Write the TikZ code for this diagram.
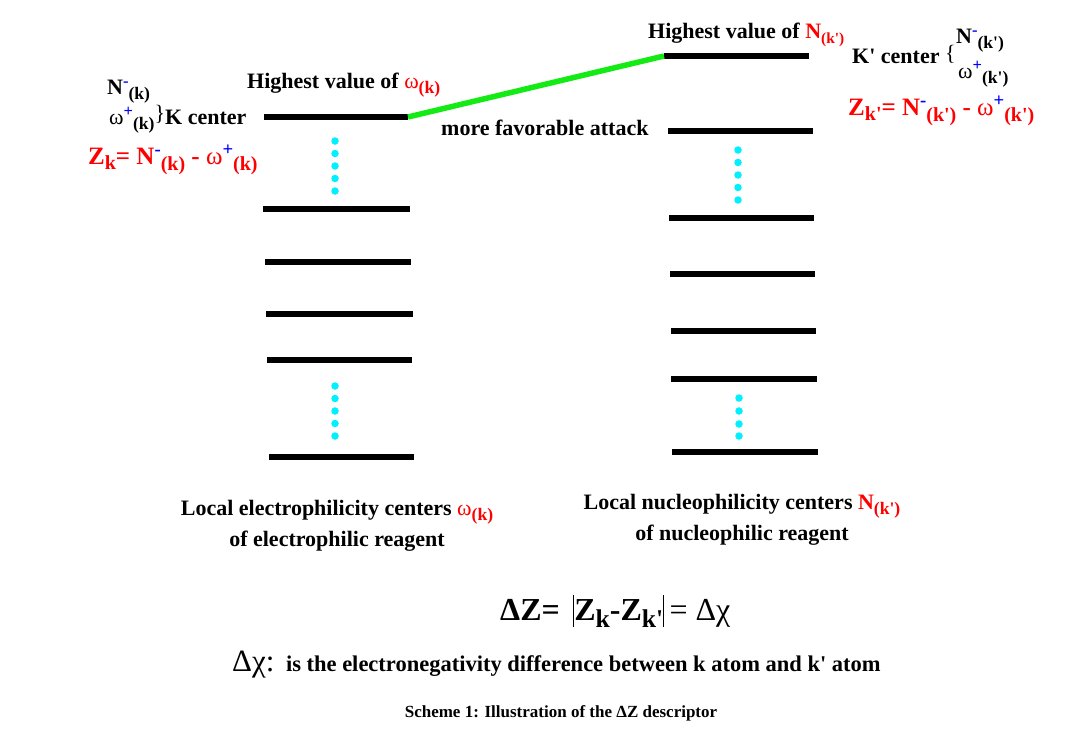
\documentclass[tikz,border=0pt]{standalone}
\usepackage{fontspec}
\setmainfont{Liberation Serif}
\usepackage{xcolor}
\usepackage{tikz}
\usetikzlibrary{positioning}

\definecolor{dotcyan}{RGB}{0,240,255}
\definecolor{attackgreen}{RGB}{20,235,20}
\definecolor{pureblue}{RGB}{0,0,255}
\definecolor{purered}{RGB}{255,0,0}

% superscript (blue) followed by a lowered subscript
\newcommand{\supsub}[3]{#1\raisebox{0.75ex}{\scalebox{0.75}{\textcolor{pureblue}{#2}}}\raisebox{-0.55ex}{\scalebox{0.8}{(#3)}}}
\newcommand{\lowsub}[2]{#1\raisebox{-0.5ex}{\scalebox{0.8}{#2}}}
\newcommand{\om}{{\mdseries ω}}
\newcommand{\ap}{\textquotesingle}
\newcommand{\absbar}{\rule[-0.22em]{1.1pt}{1.0em}}

\begin{document}
\begin{tikzpicture}[
    x=1pt, y=-1pt,
    level/.style={line width=5.5pt, black},
    attack/.style={line width=5.5pt, attackgreen},
    dotmark/.style={circle, fill=dotcyan, inner sep=0pt, minimum size=7.5pt},
    txt/.style={inner sep=0pt, font=\bfseries\fontsize{22}{26}\selectfont},
    bigtxt/.style={inner sep=0pt, font=\bfseries\fontsize{25}{30}\selectfont},
    eqtxt/.style={inner sep=0pt, font=\bfseries\fontsize{32}{36}\selectfont},
    captxt/.style={inner sep=0pt, font=\bfseries\fontsize{17}{20}\selectfont},
]
    \useasboundingbox (0,0) rectangle (1076,731);

    % energy levels of the electrophile
    \foreach \y/\xa/\xb [count=\i] in {117/264/408, 209/263/410, 262/265/411, 314/266/413, 360/267/412, 457/269/414}
        \draw[level] (\xa,\y) coordinate (e\i a) -- (\xb,\y) coordinate (e\i b);
    % energy levels of the nucleophile
    \foreach \y/\xa/\xb [count=\i] in {56/664/809, 131/668/813, 218/669/814, 274/670/815, 331/671/816, 379/671/817, 452/672/818}
        \draw[level] (\xa,\y) coordinate (n\i a) -- (\xb,\y) coordinate (n\i b);

    % dotted gaps
    \foreach \y [count=\i] in {141,153.5,166,178.5,191}
        \node[dotmark] (ldA\i) at (335,\y) {};
    \foreach \y [count=\i] in {386,398.5,411,423.5,436}
        \node[dotmark] (ldB\i) at (335,\y) {};
    \foreach \y [count=\i] in {150,162.5,175,187.5,200}
        \node[dotmark] (rdA\i) at (738,\y) {};
    \foreach \y [count=\i] in {398,411,424,436}
        \node[dotmark] (rdB\i) at (739,\y) {};

    % favourable attack
    \draw[attack] (e1b) -- (n1a);
    \node[txt, anchor=base west] (attacklbl) at (441,135) {more favorable attack};

    % top labels
    \node[txt, anchor=base west] (highL) at (247,88) {Highest value of \textcolor{purered}{\lowsub{\om}{(k)}}};
    \node[txt, anchor=base west] (highR) at (648,38) {Highest value of \textcolor{purered}{N\raisebox{-0.5ex}{\scalebox{0.7}{(k\ap)}}}};

    % K center
    \node[txt, anchor=base west] (kN) at (107,94) {\supsub{N}{-}{k}};
    \node[txt, anchor=base west] (kC) at (109,124) {\supsub{\om}{+}{k}\raisebox{0.3ex}{\mdseries\}}K center};
    \node[bigtxt, anchor=base west, purered] (kZ) at (88,164) {\lowsub{Z}{k}= \supsub{N}{-}{k} - \supsub{\om}{+}{k}};

    % K' center
    \node[txt, anchor=base west] (kpC) at (852,63) {K\ap{} center \raisebox{0.2ex}{\mdseries\{}};
    \node[txt, anchor=base west] (kpN) at (956,43) {\supsub{N}{-}{k\ap}};
    \node[txt, anchor=base west] (kpO) at (958,78) {\supsub{\om}{+}{k\ap}};
    \node[bigtxt, anchor=base west, purered] (kpZ) at (848,115) {\lowsub{Z}{k\ap}= \supsub{N}{-}{k\ap} - \supsub{\om}{+}{k\ap}};

    % bottom labels
    \node[txt, anchor=base] (elec) at (337,515) {Local electrophilicity centers \textcolor{purered}{\lowsub{\om}{(k)}}};
    \node[txt, anchor=base] (elec2) at (337,546) {of electrophilic reagent};
    \node[txt, anchor=base] (nucl) at (742,509) {Local nucleophilicity centers \textcolor{purered}{\lowsub{N}{(k\ap)}}};
    \node[txt, anchor=base] (nucl2) at (742,540) {of nucleophilic reagent};

    % descriptor
    \node[eqtxt, anchor=base west] (dZ) at (500,620) {ΔZ= \,\absbar\lowsub{Z}{k}-\lowsub{Z}{k\ap}\absbar\,{\mdseries = Δχ}};
    \node[txt, anchor=base west, font=\bfseries\fontsize{22.5}{26}\selectfont] (dchi) at (232,671) {{\mdseries\fontsize{31}{32}\selectfont Δχ:}\hspace{4pt} is the electronegativity difference between k atom and k\ap{} atom};
    \node[captxt, anchor=base] (caption) at (561,717) {Scheme 1: Illustration of the ΔZ descriptor};
\end{tikzpicture}
\end{document}
